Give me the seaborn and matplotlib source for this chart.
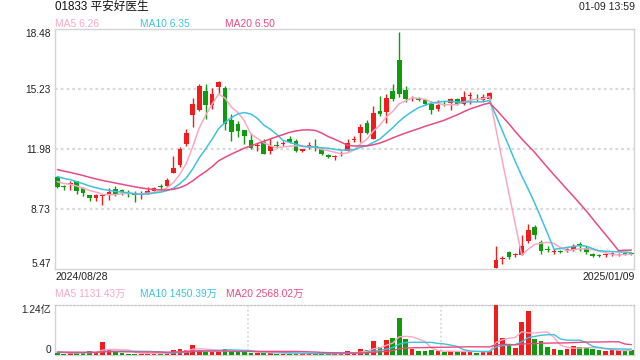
import numpy as np
import pandas as pd
import matplotlib
matplotlib.use("Agg")
import matplotlib.pyplot as plt
import seaborn as sns

sns.set_theme(style="white")
plt.rcParams['font.family'] = ['Liberation Sans', 'Noto Sans CJK SC', 'DejaVu Sans']

# ---------------- data ----------------
title_text = "01833 平安好医生"
time_text = "01-09 13:59"
start_date = "2024/08/28"
end_date = "2025/01/09"
price_ma_labels = ["MA5 6.26", "MA10 6.35", "MA20 6.50"]
vol_ma_labels = ["MA5 1131.43万", "MA10 1450.39万", "MA20 2568.02万"]
price_ticks = [5.47, 8.73, 11.98, 15.23, 18.48]
price_tick_labels = ["5.47", "8.73", "11.98", "15.23", "18.48"]
vol_tick_labels = ["0", "1.24亿"]
vol_max = 12400  # 万

# closes before the visible window (only used for the moving averages)
hist_close = [11.6, 11.5, 11.4, 11.3, 11.3, 11.2, 11.1, 11.0, 11.0, 11.0,
              10.9, 10.8, 10.8, 10.7, 10.6, 10.4, 10.3, 10.2, 10.2]
hist_vol = [800, 850, 750, 800, 900, 700, 800, 750, 850, 800,
            700, 750, 800, 700, 650, 700, 650, 600, 650]

opens = [10.48, 9.92, 10.07, 10.23, 9.87, 9.49, 9.32, 9.42, 9.51, 9.81,
         9.74, 9.55, 9.48, 9.50, 9.59, 9.72, 9.96, 9.97, 10.68, 11.11,
         12.22, 13.84, 14.09, 15.11, 14.38, 15.36, 15.29, 13.55, 13.34, 13.01,
         12.47, 12.13, 12.34, 11.89, 12.18, 12.23, 12.52, 12.43, 11.85, 12.15,
         12.11, 11.98, 11.66, 11.52, 11.72, 11.84, 12.48, 12.83, 13.39, 12.49,
         14.02, 14.00, 15.11, 16.81, 15.20, 14.66, 14.69, 14.64, 14.42, 14.13,
         14.37, 14.46, 14.67, 14.42, 14.85, 14.69, 14.64, 14.67, 5.53, 6.02,
         6.38, 6.22, 6.25, 6.97, 7.77, 6.92, 6.51, 6.40, 6.43, 6.43,
         6.52, 6.80, 6.61, 6.29, 6.21, 6.21, 6.28, 6.24, 6.31, 6.30]
highs = [10.52, 10.00, 10.26, 10.25, 9.90, 9.50, 9.54, 9.54, 9.87, 9.96,
         9.83, 9.76, 9.69, 9.69, 9.90, 9.92, 10.06, 10.41, 11.62, 12.11,
         13.07, 14.75, 15.50, 15.50, 15.29, 15.65, 15.38, 13.88, 13.48, 13.01,
         12.83, 12.32, 12.52, 12.58, 12.43, 12.43, 12.67, 12.49, 11.96, 12.38,
         12.49, 12.03, 11.71, 11.67, 11.84, 12.52, 12.70, 13.34, 13.57, 14.28,
         14.85, 14.96, 15.50, 18.32, 15.40, 14.87, 14.82, 14.64, 14.57, 14.64,
         14.60, 14.75, 14.75, 15.11, 15.05, 14.96, 14.93, 15.09, 6.69, 6.16,
         6.43, 6.33, 7.32, 7.91, 7.86, 7.05, 6.74, 6.56, 6.50, 6.61,
         6.83, 6.91, 6.70, 6.36, 6.29, 6.32, 6.38, 6.33, 6.36, 6.36]
lows = [9.87, 9.77, 9.77, 9.54, 9.45, 9.13, 9.18, 8.96, 9.22, 9.45,
        9.47, 9.40, 9.09, 9.27, 9.54, 9.70, 9.79, 9.90, 10.68, 11.02,
        12.16, 13.19, 14.02, 13.61, 14.15, 15.00, 13.02, 12.40, 12.65, 12.22,
        11.98, 11.89, 11.71, 11.71, 12.03, 12.14, 12.29, 11.82, 11.82, 11.96,
        11.84, 11.66, 11.47, 11.38, 11.60, 11.84, 12.34, 12.34, 12.79, 12.49,
        13.79, 13.37, 14.57, 14.78, 14.51, 14.56, 14.56, 14.37, 13.88, 14.06,
        14.31, 14.09, 14.35, 14.35, 14.42, 14.57, 14.53, 14.53, 5.53, 5.75,
        6.02, 6.14, 6.25, 6.87, 7.10, 6.29, 6.38, 6.29, 6.35, 6.40,
        6.47, 6.47, 6.29, 6.11, 6.11, 6.14, 6.20, 6.16, 6.25, 6.22]
closes = [9.94, 9.90, 10.09, 9.72, 9.59, 9.34, 9.48, 9.44, 9.65, 9.54,
          9.67, 9.52, 9.46, 9.53, 9.72, 9.88, 9.93, 10.30, 10.95, 11.98,
          12.85, 14.42, 15.40, 14.38, 14.98, 15.58, 13.34, 12.92, 12.94, 12.70,
          12.04, 12.15, 11.71, 12.16, 12.16, 12.25, 12.34, 11.85, 11.96, 12.17,
          12.07, 11.69, 11.53, 11.54, 11.74, 12.31, 12.51, 13.15, 12.85, 13.93,
          13.88, 14.75, 14.66, 14.93, 14.69, 14.69, 14.64, 14.42, 14.09, 14.37,
          14.35, 14.67, 14.42, 14.78, 14.87, 14.66, 14.78, 15.02, 5.96, 6.06,
          6.11, 6.25, 6.70, 7.59, 7.34, 6.47, 6.49, 6.42, 6.41, 6.56,
          6.69, 6.76, 6.38, 6.20, 6.19, 6.23, 6.30, 6.26, 6.29, 6.29]
volumes = [600, 350, 400, 700, 600, 1000, 450, 3300, 1500, 700,
           500, 300, 350, 300, 500, 450, 300, 600, 1300, 1400,
           1300, 2500, 1300, 800, 700, 800, 1600, 950, 800, 750,
           550, 450, 550, 500, 300, 300, 350, 500, 300, 350,
           400, 450, 350, 300, 350, 900, 600, 1500, 1200, 3500,
           2000, 3800, 4200, 9100, 4000, 1500, 1000, 900, 1300, 900,
           700, 900, 800, 1100, 900, 600, 700, 1000, 12400, 4200,
           2400, 1800, 8100, 10900, 4000, 3400, 2000, 1500, 1300, 1500,
           2200, 2000, 2100, 1400, 1150, 1000, 1200, 1150, 1100, 1207]

# ---------------- styles ----------------
RED = "#f21c1c"
GREEN = "#0e9b0e"
MA_COLORS = ["#f9a8c4", "#3dc2e0", "#ea4a80"]
GRID = "#d9d9d9"
SPINE = "#d4d4d4"

n = len(closes)
idx = np.arange(n)
df = pd.DataFrame({"i": idx, "open": opens, "high": highs, "low": lows,
                   "close": closes, "vol": volumes})
all_close = pd.Series(hist_close + closes)
all_vol = pd.Series(hist_vol + volumes)
k = len(hist_close)
for w in (5, 10, 20):
    df[f"ma{w}"] = all_close.rolling(w).mean().values[k:]
    df[f"vma{w}"] = all_vol.rolling(w).mean().values[k:]
up = df["close"] >= df["open"]
colors = np.where(up, RED, GREEN)

fig = plt.figure(figsize=(6.4, 3.6), dpi=100)
fig.patch.set_facecolor("white")
W, H = 640, 360
ax = fig.add_axes([55 / W, 91 / H, 579 / W, 240 / H])
axv = fig.add_axes([55 / W, 5 / H, 579 / W, 50 / H])

xlim = (-0.36, 89.4)

# ---- price panel ----
ax.set_xlim(*xlim)
ax.set_ylim(price_ticks[0], price_ticks[-1])
for t in price_ticks[1:-1]:
    ax.axhline(t, color=GRID, lw=1.6, ls=(0, (1.2, 1.4)), zorder=0)

ax.vlines(df["i"], df["low"], df["high"], colors=colors, lw=1.0, zorder=2)
body_bottom = np.minimum(df["open"], df["close"])
body_h = np.maximum(np.abs(df["close"] - df["open"]), 0.05)
ax.bar(df["i"], body_h, bottom=body_bottom, width=0.72, color=colors,
       linewidth=0, zorder=3)

for w, c in zip((5, 10, 20), MA_COLORS):
    sns.lineplot(data=df, x="i", y=f"ma{w}", ax=ax, color=c, lw=1.1,
                 legend=False, zorder=4)

ax.set_yticks(price_ticks)
ax.set_yticklabels(price_tick_labels)
ax.tick_params(axis="y", length=0, pad=3, labelsize=7.3, labelcolor="#222222")
labs = ax.get_yticklabels()
labs[0].set_va("bottom")
labs[-1].set_va("top")
ax.set_xticks([])
ax.set_xlabel("")
ax.set_ylabel("")
for s in ax.spines.values():
    s.set_color(SPINE)
    s.set_linewidth(1.0)
ax.text(0.905, 0.08, "sina.com", transform=ax.transAxes, color="#ececec",
        fontsize=8.5, ha="center", va="center", zorder=1)

# ---- volume panel ----
axv.set_xlim(*xlim)
axv.set_ylim(0, vol_max)
axv.bar(df["i"], df["vol"], width=0.72, color=colors, linewidth=0, zorder=3)
for w, c in zip((5, 10, 20), MA_COLORS):
    sns.lineplot(data=df, x="i", y=f"vma{w}", ax=axv, color=c, lw=1.0,
                 legend=False, zorder=4)
span = xlim[1] - xlim[0]
for f in (1 / 3, 2 / 3):
    axv.axvline(xlim[0] + span * f, color=GRID, lw=1.2, ls=(0, (1.2, 1.4)), zorder=0)
axv.set_yticks([0, vol_max])
axv.set_yticklabels(vol_tick_labels)
axv.tick_params(axis="y", length=0, pad=3, labelsize=7.3, labelcolor="#222222")
vl = axv.get_yticklabels()
vl[0].set_va("bottom")
vl[1].set_va("top")
axv.set_xticks([])
axv.set_xlabel("")
axv.set_ylabel("")
for name, s in axv.spines.items():
    s.set_color(SPINE)
    s.set_linewidth(1.0)
axv.spines["top"].set_linestyle((0, (1.2, 1.4)))
axv.spines["top"].set_color("#c8c8c8")

# ---- texts ----
def ft(x, y, s, **kw):
    fig.text(x / W, 1 - y / H, s, va="center", **kw)

ft(55, 7, title_text, fontsize=8.4, color="#111111")
ft(635, 7, time_text, fontsize=7.6, color="#222222", ha="right")
for x0, lab, c in zip((55, 140, 225), price_ma_labels, MA_COLORS):
    ft(x0, 24, lab, fontsize=7.4, color=c)
ft(55, 277, start_date, fontsize=7.6, color="#222222")
ft(635, 277, end_date, fontsize=7.6, color="#222222", ha="right")
for x0, lab, c in zip((55, 140.5, 225.5), vol_ma_labels, MA_COLORS):
    ft(x0, 294, lab, fontsize=7.4, color=c)

fig.savefig("out.png", dpi=100, facecolor="white")
